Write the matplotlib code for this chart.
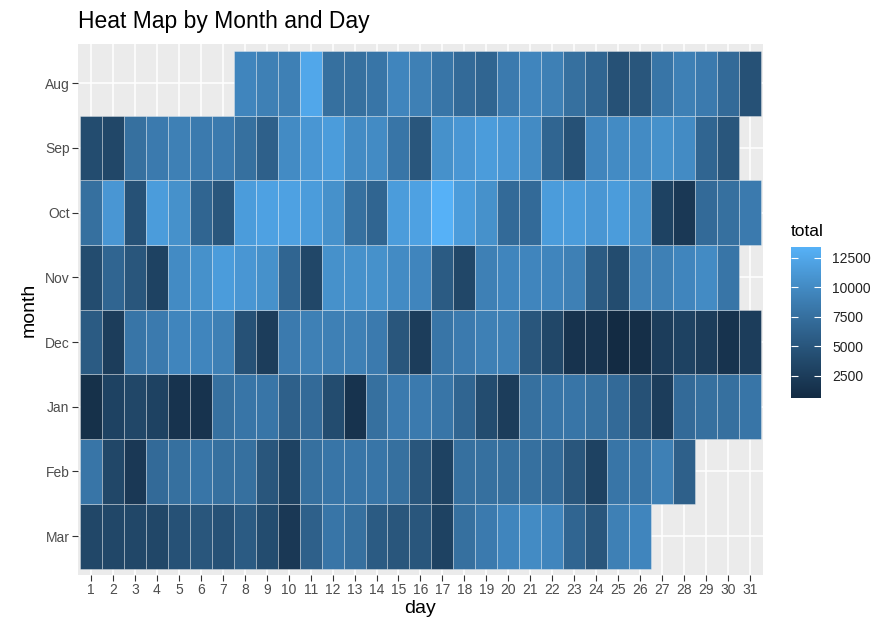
import numpy as np
import matplotlib
matplotlib.use("Agg")
import matplotlib.pyplot as plt
import matplotlib.colors as mcolors

plt.rcParams['font.family'] = ['Liberation Sans', 'DejaVu Sans']

months = ["Mar", "Feb", "Jan", "Dec", "Nov", "Oct", "Sep", "Aug"]
day_labels = [str(d) for d in range(1, 32)]

# totals per month, first value belongs to the start day
aug_start = 8
aug = [9500, 9000, 9000, 12500, 7500, 7500, 8000, 9500, 9000, 8000, 7000, 6500,
       8500, 9500, 9000, 7500, 6500, 4500, 5000, 8000, 9000, 8500, 7000, 4500]
sep = [4000, 3500, 7500, 8500, 9000, 8500, 8500, 7500, 6000, 10000, 11000, 11500,
       10000, 10000, 8000, 5000, 10500, 11000, 11500, 11000, 10000, 6500, 4500,
       9500, 10000, 10000, 10500, 10000, 6500, 5000]
oct_ = [7500, 11000, 4500, 11500, 10500, 6500, 5000, 11500, 12000, 12000, 11500,
        10500, 7500, 6500, 11500, 12000, 13400, 11500, 10500, 7000, 7000, 11500,
        11500, 11000, 11500, 10500, 3000, 2000, 7000, 7500, 8500]
nov = [4000, 6500, 5000, 3000, 10000, 10500, 11500, 11000, 10500, 6500, 3500,
       10500, 10500, 10500, 10000, 9500, 5500, 3500, 9000, 9500, 9500, 9500, 9000,
       5500, 4000, 9000, 9000, 9500, 10000, 8000]
dec = [5500, 2500, 8000, 8500, 9500, 9500, 9000, 4500, 2500, 8500, 9000, 9000,
       9000, 8500, 5000, 2500, 8000, 8500, 9000, 9000, 5000, 3500, 1500, 1500,
       600, 1000, 2500, 3000, 2500, 1500, 2500]
jan = [1200, 3000, 3500, 3000, 1500, 1500, 7500, 8000, 8000, 6000, 7000, 4000,
       1500, 7500, 8500, 8500, 8000, 6500, 4000, 2500, 7500, 8000, 8000, 7500,
       7000, 4500, 2500, 7000, 7500, 7500, 8000]
feb = [8000, 3500, 2000, 7000, 7500, 8000, 7500, 7500, 5000, 3000, 7500, 8000,
       8000, 8000, 7500, 5000, 3000, 7500, 7500, 7500, 7500, 7000, 5000, 3000,
       8000, 8000, 9000, 6000]
mar = [3500, 3500, 3500, 3500, 4500, 5000, 4500, 5500, 4000, 2000, 6000, 8000,
       7500, 5500, 5000, 5000, 3000, 7500, 8500, 9500, 10000, 9500, 6500, 5000,
       9000, 9500]

rows = {
    "Aug": (aug_start, aug), "Sep": (1, sep), "Oct": (1, oct_), "Nov": (1, nov),
    "Dec": (1, dec), "Jan": (1, jan), "Feb": (1, feb), "Mar": (1, mar),
}


# ggplot-style gradient, interpolated in Lab space
def _to_lin(c):
    return np.where(c <= 0.04045, c / 12.92, ((c + 0.055) / 1.055) ** 2.4)


def _from_lin(c):
    return np.where(c <= 0.0031308, c * 12.92, 1.055 * np.clip(c, 0, None) ** (1 / 2.4) - 0.055)


M = np.array([[0.4124, 0.3576, 0.1805], [0.2126, 0.7152, 0.0722], [0.0193, 0.1192, 0.9505]])
WHITE = np.array([0.95047, 1.0, 1.08883])


def rgb_to_lab(rgb):
    xyz = M @ _to_lin(np.asarray(rgb)) / WHITE
    f = np.where(xyz > 0.008856, np.cbrt(xyz), 7.787 * xyz + 16 / 116)
    return np.array([116 * f[1] - 16, 500 * (f[0] - f[1]), 200 * (f[1] - f[2])])


def lab_to_rgb(lab):
    fy = (lab[0] + 16) / 116
    fx = fy + lab[1] / 500
    fz = fy - lab[2] / 200
    f = np.array([fx, fy, fz])
    xyz = np.where(f ** 3 > 0.008856, f ** 3, (f - 16 / 116) / 7.787) * WHITE
    return np.clip(_from_lin(np.linalg.solve(M, xyz)), 0, 1)


lo = rgb_to_lab(mcolors.to_rgb("#132B43"))
hi = rgb_to_lab(mcolors.to_rgb("#56B1F7"))
cols = [lab_to_rgb(lo + t * (hi - lo)) for t in np.linspace(0, 1, 256)]
cmap = mcolors.ListedColormap(cols)

all_vals = np.concatenate([v for _, v in rows.values()])
norm = mcolors.Normalize(vmin=all_vals.min(), vmax=all_vals.max())

fig = plt.figure(figsize=(8.86, 6.22), dpi=100)
ax = fig.add_axes([0.088, 0.0756, 0.773, 0.853])
ax.set_facecolor("#EBEBEB")
ax.set_axisbelow(True)
ax.grid(color="white", linewidth=1.1)

for yi, m in enumerate(months, start=1):
    start, vals = rows[m]
    days = np.arange(start, start + len(vals))
    ax.bar(days, 1, bottom=yi - 0.5, width=1, color=cmap(norm(np.array(vals))),
           edgecolor=(1, 1, 1, 0.45), linewidth=0.5, zorder=2)

ax.set_xlim(0.4, 31.6)
ax.set_ylim(0.4, 8.6)
ax.set_xticks(range(1, 32))
ax.set_xticklabels(day_labels)
ax.set_yticks(range(1, 9))
ax.set_yticklabels(months)
for s in ax.spines.values():
    s.set_visible(False)
ax.tick_params(length=4, width=0.8, color="#333333", labelcolor="#4D4D4D",
               labelsize=10, pad=2)
ax.set_xlabel("day", fontsize=14, labelpad=2)
ax.set_ylabel("month", fontsize=14, labelpad=5)
ax.set_title("Heat Map by Month and Day", fontsize=16.5, loc="left", x=0, pad=12)

cax = fig.add_axes([791 / 886, 1 - 398 / 622, 30 / 886, 151 / 622])
sm = plt.cm.ScalarMappable(norm=norm, cmap=cmap)
cb = fig.colorbar(sm, cax=cax, ticks=[2500, 5000, 7500, 10000, 12500])
cb.outline.set_visible(False)
cb.ax.tick_params(direction="in", color="white", length=5, width=0.8,
                  left=True, right=True, labelsize=10, labelcolor="#222222", pad=8)
cax.set_title("total", fontsize=12.5, loc="left", pad=8)

fig.savefig("out.png", dpi=100)
